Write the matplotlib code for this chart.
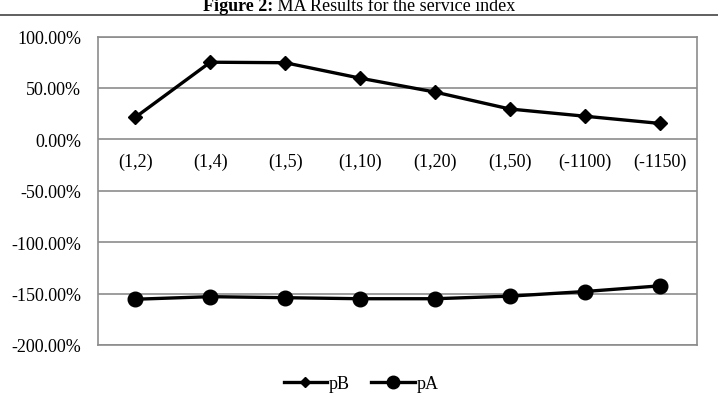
import matplotlib
matplotlib.use("Agg")
import matplotlib.pyplot as plt
from matplotlib.lines import Line2D
import matplotlib.transforms as mtransforms

categories = ["(1,2)", "(1,4)", "(1,5)", "(1,10)", "(1,20)", "(1,50)", "(-1100)", "(-1150)"]
pB = [21.5, 75.0, 74.5, 59.5, 46.0, 29.5, 22.5, 15.5]
pA = [-155.5, -153.0, -154.0, -155.0, -155.0, -152.5, -148.0, -142.5]
yticks = [100, 50, 0, -50, -100, -150, -200]
series_names = ["pB", "pA"]

plt.rcParams['font.family'] = ['Liberation Serif', 'DejaVu Serif']

W, H = 718, 410
fig = plt.figure(figsize=(W / 100, H / 100), dpi=100)
ax = fig.add_axes([98 / W, 1 - 346 / H, (697 - 98) / W, (346 - 37.5) / H])

x = list(range(len(categories)))
ax.plot(x, pB, color='black', lw=2.4, marker='D', ms=7, label=series_names[0], zorder=3)
ax.plot(x, pA, color='black', lw=2.4, marker='o', ms=10.5, label=series_names[1], zorder=3)

ax.set_xlim(-0.5, len(categories) - 0.5)
ax.set_ylim(-200, 100)
ax.set_yticks(yticks)
ax.set_yticklabels([f"{v:.2f}%" for v in yticks], fontsize=13)
ax.tick_params(axis='y', length=0, pad=12)
ax.set_xticks([])
ax.grid(axis='y', color='#8c8c8c', lw=1.2)
ax.set_axisbelow(True)
for s in ax.spines.values():
    s.set_color('#8c8c8c')
    s.set_linewidth(1.2)

trans = mtransforms.blended_transform_factory(ax.transData, ax.transData)
offset = mtransforms.offset_copy(trans, fig=fig, y=-22, units='dots')
for xi, lab in zip(x, categories):
    ax.text(xi, 0, lab, transform=offset, ha='center', va='center', fontsize=13)

handles = [Line2D([], [], color='black', lw=2.4, marker='D', ms=5),
           Line2D([], [], color='black', lw=2.4, marker='o', ms=9)]
fig.legend(handles, series_names, loc='center', bbox_to_anchor=(361 / W, 1 - 385 / H),
           ncol=2, frameon=False, fontsize=13, handlelength=2.4, handletextpad=0.1,
           columnspacing=1.2)

# title and separator line
ty = 1 - 6.5 / H
tb = fig.text(0, ty, "Figure 2:", fontsize=13, fontweight='bold', ha='left', va='center')
tr = fig.text(0, ty, " MA Results for the service index", fontsize=13, ha='left', va='center')
fig.canvas.draw()
wb = tb.get_window_extent().width
wr = tr.get_window_extent().width
start = (W - (wb + wr)) / 2
tb.set_x(start / W)
tr.set_x((start + wb) / W)
fig.add_artist(Line2D([0, 1], [1 - 15.5 / H, 1 - 15.5 / H], transform=fig.transFigure,
                      color='#444444', lw=1.2))

fig.savefig("out.png", dpi=100)
